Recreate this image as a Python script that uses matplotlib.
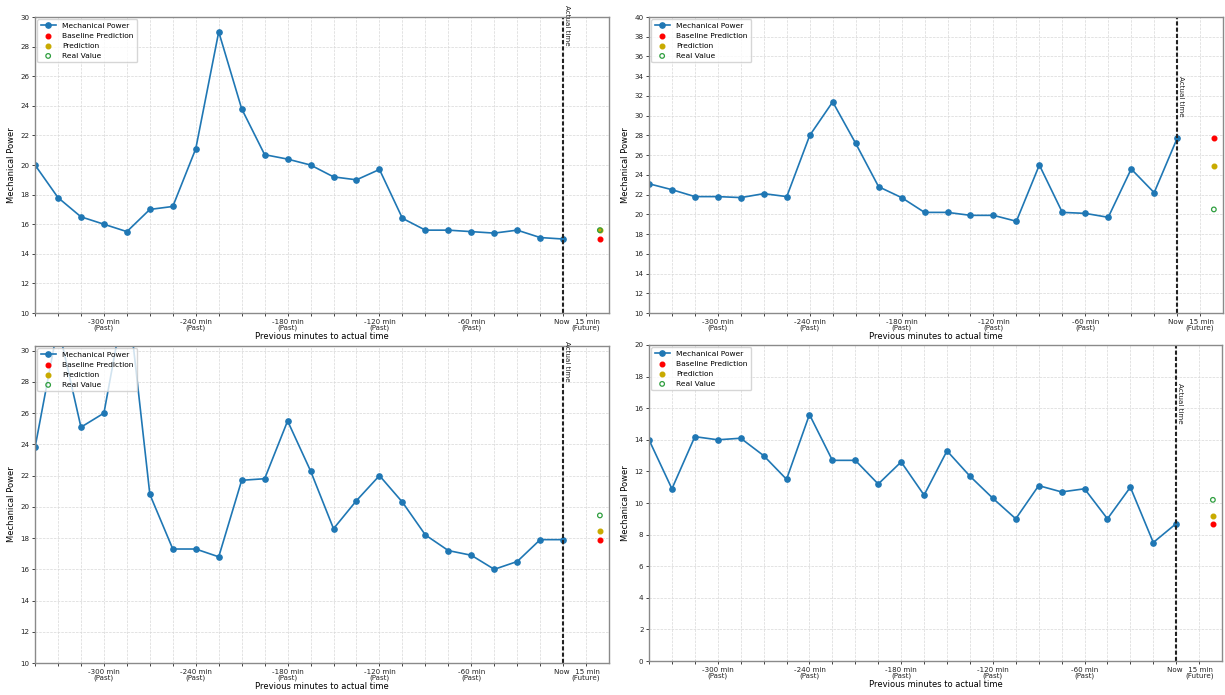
import numpy as np
import matplotlib
matplotlib.use("Agg")
import matplotlib.pyplot as plt

# minutes relative to actual time (every 15 min)
minutes = list(range(-345, 1, 15))
future_x = 24

power_1 = [20.0, 17.8, 16.5, 16.0, 15.5, 17.0, 17.2, 21.1, 29.0, 23.8, 20.7, 20.4,
           20.0, 19.2, 19.0, 19.7, 16.4, 15.6, 15.6, 15.5, 15.4, 15.6, 15.1, 15.0]
power_2 = [23.1, 22.5, 21.8, 21.8, 21.7, 22.1, 21.8, 28.0, 31.4, 27.2, 22.8, 21.7,
           20.2, 20.2, 19.9, 19.9, 19.3, 25.0, 20.2, 20.1, 19.7, 24.6, 22.2, 27.7]
power_3 = [23.8, 31.6, 25.1, 26.0, 34.0, 20.8, 17.3, 17.3, 16.8, 21.7, 21.8, 25.5,
           22.3, 18.6, 20.4, 22.0, 20.3, 18.2, 17.2, 16.9, 16.0, 16.5, 17.9, 17.9]
power_4 = [14.0, 10.9, 14.2, 14.0, 14.1, 13.0, 11.5, 15.6, 12.7, 12.7, 11.2, 12.6,
           10.5, 13.3, 11.7, 10.3, 9.0, 11.1, 10.7, 10.9, 9.0, 11.0, 7.5, 8.7]

baseline = [15.0, 27.7, 17.9, 8.65]
prediction = [15.6, 24.9, 18.45, 9.2]
real_value = [15.6, 20.5, 19.45, 10.2]

ylims = [(10, 30), (10, 40), (10, 30.3), (0, 20)]
label_y = [30.8, 34.0, 30.6, 17.6]

tick_pos = list(range(-345, 16, 15))
tick_text = {-300: "-300 min\n(Past)", -240: "-240 min\n(Past)", -180: "-180 min\n(Past)",
             -120: "-120 min\n(Past)", -60: "-60 min\n(Past)", 0: "Now ",
             15: " 15 min\n(Future)"}

series = [power_1, power_2, power_3, power_4]
rects = [[0.0286, 0.5496, 0.4686, 0.4259],
         [0.5298, 0.5496, 0.4686, 0.4259],
         [0.0286, 0.0460, 0.4686, 0.4562],
         [0.5298, 0.0489, 0.4678, 0.4547]]

fs = 5.4
tfs = 5.1
lfs = 6.0
fig = plt.figure(figsize=(12.25, 6.95), dpi=100)

for i in range(4):
    ax = fig.add_axes(rects[i])
    ax.plot(minutes, series[i], marker='o', markersize=3.8, linewidth=1.2,
            color='#1f77b4', label='Mechanical Power')
    ax.scatter([future_x], [baseline[i]], s=11, color='red', label='Baseline Prediction', zorder=3)
    ax.scatter([future_x], [prediction[i]], s=11, color='#c8aa00', label='Prediction', zorder=3)
    ax.scatter([future_x], [real_value[i]], s=11, facecolors='none', edgecolors='#2e9e3e',
               linewidths=0.9, label='Real Value', zorder=4)
    ax.axvline(0, color='#222222', linestyle='--', linewidth=1.5, dashes=(2, 1))
    ax.text(0.8, label_y[i], 'Actual time', rotation=270, ha='left', va='top',
            fontsize=tfs, color='#222222', clip_on=False)

    ax.set_xlim(-345, 30)
    ax.set_ylim(*ylims[i])
    ax.set_yticks(np.arange(ylims[i][0], ylims[i][1] + 0.01, 2))
    ax.set_xticks(tick_pos)
    ax.set_xticklabels([tick_text.get(t, '') for t in tick_pos], linespacing=1.05)
    ax.tick_params(labelsize=tfs, length=2.5, width=0.6, pad=1.5, colors='#222222')
    ax.grid(True, linestyle='--', linewidth=0.5, color='#d8d8d8')
    for sp in ax.spines.values():
        sp.set_color('#8a8a8a')
        sp.set_linewidth(1.0)
    ax.set_xlabel('Previous minutes to actual time', fontsize=lfs, labelpad=0.5)
    ax.set_ylabel('Mechanical Power', fontsize=lfs, labelpad=3)
    ax.legend(loc='upper left', fontsize=fs, handlelength=2.0, handletextpad=0.9,
              borderpad=0.45, labelspacing=0.5, borderaxespad=0.3)

fig.savefig('out.png', dpi=100)
